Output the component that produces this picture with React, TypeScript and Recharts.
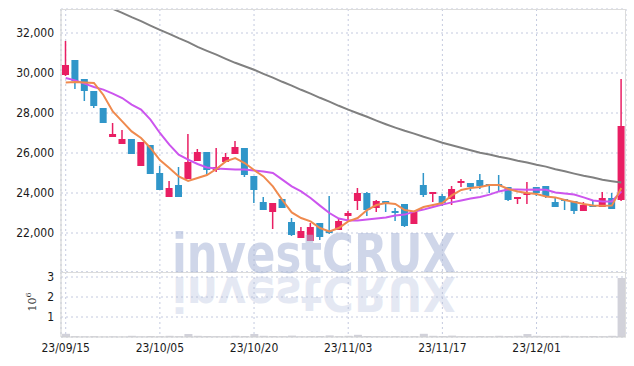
import { Bar, BarChart, CartesianGrid, ComposedChart, Line, XAxis, YAxis } from "recharts";

const dates = [
  "23/09/15", "23/09/18", "23/09/19", "23/09/20", "23/09/21", "23/09/22", "23/09/25", "23/09/26", "23/09/27", "23/10/04",
  "23/10/05", "23/10/06", "23/10/10", "23/10/11", "23/10/12", "23/10/13", "23/10/16", "23/10/17", "23/10/18", "23/10/19",
  "23/10/20", "23/10/23", "23/10/24", "23/10/25", "23/10/26", "23/10/27", "23/10/30", "23/10/31", "23/11/01", "23/11/02",
  "23/11/03", "23/11/06", "23/11/07", "23/11/08", "23/11/09", "23/11/10", "23/11/13", "23/11/14", "23/11/15", "23/11/16",
  "23/11/17", "23/11/20", "23/11/21", "23/11/22", "23/11/23", "23/11/24", "23/11/27", "23/11/28", "23/11/29", "23/11/30",
  "23/12/01", "23/12/04", "23/12/05", "23/12/06", "23/12/07", "23/12/08", "23/12/11", "23/12/12", "23/12/13", "23/12/14",
];

const opens = [
  29900, 30650, 29700, 29100, 28250, 26800, 26450, 26700, 25350, 26400,
  25000, 23800, 24400, 24700, 25600, 26050, 25150, 25550, 25950, 26250,
  24850, 23550, 23050, 23700, 22550, 21750, 21600, 22500, 22100, 22150,
  22850, 23600, 24000, 23250, 23600, 23100, 23450, 22450, 24400, 23950,
  23850, 23700, 24500, 24500, 24650, 24450, 24450, 24300, 23700, 23900,
  24300, 24350, 23550, 23700, 23600, 23100, 23400, 23300, 23750, 23650,
];
const highs = [
  31600, 30650, 29700, 29100, 28250, 27500, 27150, 26700, 26550, 26400,
  25350, 24600, 25300, 26950, 26200, 26050, 26250, 26000, 26600, 26250,
  24850, 23800, 23500, 23700, 22750, 22300, 22500, 22500, 23850, 22700,
  23100, 24250, 24050, 23650, 23600, 23250, 23450, 23100, 25000, 24050,
  23950, 24350, 24700, 24500, 24950, 24450, 24900, 24300, 23800, 24550,
  24300, 24350, 23750, 23700, 23600, 23550, 23650, 24050, 24000, 29700,
];
const lows = [
  29850, 29200, 28600, 28250, 27500, 26800, 26450, 25950, 25350, 24950,
  24150, 23800, 23800, 24700, 25600, 24950, 25050, 25550, 25950, 24800,
  23500, 23150, 22200, 23250, 21850, 21750, 21600, 21650, 21950, 22150,
  22650, 23150, 22850, 23050, 23050, 22600, 22300, 22450, 23800, 23550,
  23350, 23400, 24300, 24100, 24200, 24000, 24100, 23600, 23450, 23450,
  23850, 23750, 23300, 23150, 22950, 23100, 23300, 23300, 23200, 23600,
];
const closes = [
  30400, 29600, 29100, 28350, 27500, 26950, 26700, 25950, 26550, 24950,
  24150, 24250, 23800, 25550, 26050, 25150, 25300, 25800, 26300, 24900,
  24150, 23150, 23500, 23250, 21900, 22100, 22300, 21800, 22000, 22600,
  23000, 24000, 23150, 23600, 23450, 23000, 22350, 23100, 23900, 24050,
  23500, 24200, 24600, 24300, 24350, 24350, 24350, 23650, 23800, 24000,
  24000, 23850, 23300, 23600, 23100, 23400, 23300, 23750, 23200, 27350,
];

const ma5 = [
  29530, 29550, 29530, 29500, 28900, 28080, 27580, 27080, 26750, 26250,
  25650, 25250, 24830, 24600, 24750, 24900, 25200, 25580, 25750, 25500,
  25150, 24830, 24330, 23650, 23030, 22750, 22580, 22250, 22080, 22250,
  22580, 22750, 23150, 23400, 23500, 23450, 23150, 23080, 23300, 23400,
  23500, 23880, 24150, 24250, 24300, 24400, 24400, 24200, 24080, 24000,
  23950, 23830, 23780, 23650, 23550, 23450, 23370, 23360, 23370, 24250,
];
const ma20 = [
  29750, 29630, 29470, 29300, 29170, 28970, 28750, 28420, 28170, 27670,
  27000, 26420, 25920, 25670, 25450, 25280, 25220, 25200, 25180, 25170,
  25130, 25080, 25000, 24670, 24330, 24080, 23750, 23370, 23000, 22720,
  22620, 22630, 22670, 22720, 22780, 22880, 22920, 23070, 23170, 23300,
  23420, 23530, 23630, 23720, 23800, 23920, 24080, 24170, 24170, 24160,
  24170, 24160, 24030, 23970, 23920, 23780, 23630, 23580, 23580, 24080,
];
const ma60 = [
  34270, 34060, 33860, 33640, 33420, 33210, 33010, 32790, 32590, 32370,
  32160, 31960, 31740, 31540, 31310, 31110, 30920, 30710, 30510, 30340,
  30160, 29960, 29770, 29560, 29370, 29160, 28970, 28760, 28570, 28360,
  28170, 27990, 27810, 27620, 27440, 27270, 27110, 26970, 26810, 26670,
  26510, 26390, 26260, 26140, 26010, 25920, 25810, 25720, 25610, 25520,
  25410, 25320, 25190, 25090, 24970, 24860, 24770, 24660, 24590, 24520,
];
const volumes = [
  160000, 40000, 30000, 40000, 20000, 30000, 20000, 60000, 30000, 50000,
  40000, 60000, 40000, 150000, 60000, 50000, 40000, 30000, 60000, 50000,
  150000, 60000, 50000, 40000, 70000, 30000, 40000, 50000, 80000, 40000,
  60000, 110000, 50000, 40000, 30000, 40000, 30000, 40000, 160000, 60000,
  50000, 70000, 40000, 30000, 50000, 40000, 60000, 50000, 60000, 150000,
  60000, 50000, 40000, 60000, 30000, 40000, 50000, 40000, 60000, 2950000,
];

const xTicks = ["23/09/15", "23/10/05", "23/10/20", "23/11/03", "23/11/17", "23/12/01"];
const priceTicks = [22000, 24000, 26000, 28000, 30000, 32000];
const volumeTicks = [1000000, 2000000, 3000000];

const rows = dates.map((date, i) => ({
  date,
  open: opens[i],
  high: highs[i],
  low: lows[i],
  close: closes[i],
  ma5: ma5[i],
  ma20: ma20[i],
  ma60: ma60[i],
  volume: volumes[i],
}));

const UP = "#e91e63";
const DOWN = "#3096c9";
const GRID = "#c4cadf";
const FONT = "'DejaVu Sans Condensed', 'DejaVu Sans', sans-serif";
const tickStyle = { fill: "#1a1a1a", fontSize: 12, fontFamily: FONT, fontStretch: "condensed" };

const Candle = (props: any) => {
  const { x, y, width, height, payload } = props;
  const { open, close, high, low } = payload;
  const color = close >= open ? UP : DOWN;
  const ratio = height / (high - low || 1);
  const top = y + (high - Math.max(open, close)) * ratio;
  const bottom = y + (high - Math.min(open, close)) * ratio;
  const cx = x + width / 2;
  return (
    <g>
      <line x1={cx} x2={cx} y1={y} y2={y + height} stroke={color} strokeWidth={1.5} />
      <rect x={x} y={top} width={width} height={Math.max(bottom - top, 1.5)} fill={color} />
    </g>
  );
};

export default function App() {
  return (
    <div style={{ position: "absolute", left: 0, top: 0, width: 634, height: 366, background: "#fff" }}>
      <div style={{ position: "absolute", left: 0, top: 0 }}>
        <ComposedChart width={634} height={272} data={rows} margin={{ top: 9, right: 8, bottom: 0, left: 0 }}>
          <CartesianGrid stroke={GRID} strokeDasharray="2 3" />
          <XAxis dataKey="date" hide ticks={xTicks} interval={0} />
          <YAxis
            width={61}
            domain={[20050, 33200]}
            allowDataOverflow
            ticks={priceTicks}
            interval={0}
            tickFormatter={(v) => v.toLocaleString("en-US")}
            tick={tickStyle}
            tickSize={0}
            tickMargin={7}
            axisLine={{ stroke: "#cfcfcf" }}
            tickLine={false}
          />
          <Bar dataKey={(d: any) => [d.low, d.high]} barSize={7} shape={<Candle />} isAnimationActive={false} />
          <Line dataKey="ma60" stroke="#808080" strokeWidth={2} dot={false} isAnimationActive={false} />
          <Line dataKey="ma20" stroke="#cc55ee" strokeWidth={2} dot={false} isAnimationActive={false} />
          <Line dataKey="ma5" stroke="#ef8a4e" strokeWidth={2} dot={false} isAnimationActive={false} />
        </ComposedChart>
      </div>
      <div style={{ position: "absolute", left: 0, top: 262 }}>
        <BarChart width={634} height={104} data={rows} margin={{ top: 10, right: 8, bottom: 0, left: 0 }}>
          <CartesianGrid stroke={GRID} strokeDasharray="2 3" />
          <XAxis
            dataKey="date"
            ticks={xTicks}
            interval={0}
            height={29}
            tick={tickStyle}
            tickSize={0}
            tickMargin={6}
            axisLine={{ stroke: "#cfcfcf" }}
            tickLine={false}
          />
          <YAxis
            width={61}
            domain={[0, 3250000]}
            ticks={volumeTicks}
            interval={0}
            tickFormatter={(v) => String(v / 1000000)}
            tick={tickStyle}
            tickSize={0}
            tickMargin={7}
            axisLine={{ stroke: "#cfcfcf" }}
            tickLine={false}
          />
          <Bar dataKey="volume" fill="#d2d2da" barSize={8} isAnimationActive={false} />
        </BarChart>
      </div>
      <div style={{ position: "absolute", left: 61, top: 9, width: 565, height: 328, borderTop: "1px solid #dcdcdc", borderRight: "1px solid #dcdcdc", boxSizing: "border-box", pointerEvents: "none" }} />
      <div style={{ position: "absolute", left: 61, top: 272, width: 565, height: 1, background: "#dcdcdc", pointerEvents: "none" }} />
      <svg width={634} height={366} style={{ position: "absolute", left: 0, top: 0, pointerEvents: "none" }}>
        <text x={172} y={272} fontFamily="'DejaVu Sans', sans-serif" fontWeight="bold" fontSize={54} textLength={284} lengthAdjust="spacingAndGlyphs" fill="#a9b6d8" opacity={0.55}>
          investCRUX
        </text>
        <text transform="translate(0 552) scale(1 -0.9)" x={172} y={306} fontFamily="'DejaVu Sans', sans-serif" fontWeight="bold" fontSize={54} textLength={284} lengthAdjust="spacingAndGlyphs" fill="#a9b6d8" opacity={0.3}>
          investCRUX
        </text>
        <text transform="rotate(-90 36 302)" x={36} y={302} textAnchor="middle" fontFamily="'DejaVu Serif', serif" fontSize={11} fill="#333">
          10<tspan dy={-5} fontSize={8}>6</tspan>
        </text>
      </svg>
    </div>
  );
}
